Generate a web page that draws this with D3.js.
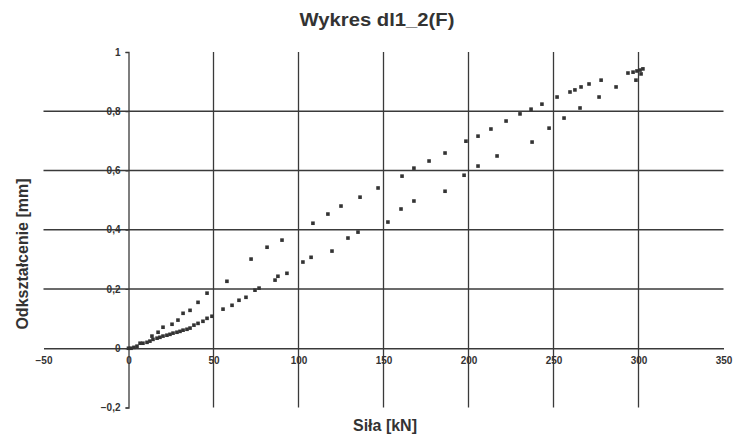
<!DOCTYPE html>
<html>
<head>
<meta charset="utf-8">
<script src="https://cdn.jsdelivr.net/npm/d3@7"></script>
<style>
  body { margin: 0; background: #fff; }
  svg { display: block; }
  text { font-family: "Liberation Sans", Arial, sans-serif; fill: #333; font-weight: bold; }
</style>
</head>
<body>
<svg id="chart" width="733" height="441"></svg>
<script>
const title = "Wykres dl1_2(F)";
const xTitle = "Siła [kN]";
const yTitle = "Odkształcenie [mm]";

const xTicks = [-50, 0, 50, 100, 150, 200, 250, 300, 350];
const yTicks = [-0.2, 0, 0.2, 0.4, 0.6, 0.8, 1];
const xGrid = [50, 100, 150, 200, 250, 300];
const yGrid = [0.2, 0.4, 0.6, 0.8];

// lower branch (loading)
const loadF = [0, 1.5, 3.2, 5, 6.8, 8.5, 10.9, 12.6, 14.4, 16.8, 18.5, 20.3, 22.6, 24.4, 26.2, 28.5, 30.3, 32.1, 34.4, 36.2, 38.5, 40.9, 43.8, 46.2, 49.1, 55.6, 60.9, 65, 69.1, 74.4, 76.8, 86.2, 87.9, 93.2, 102.6, 107.4, 119.7, 129.1, 135, 152.6, 160.3, 167.9, 186.2, 197.4, 205.6, 216.8, 237.4, 247.4, 256.2, 265.6, 276.8, 286.8, 298.5, 301.5];
const loadD = [0, 0, 0.003, 0.007, 0.017, 0.017, 0.020, 0.024, 0.030, 0.034, 0.037, 0.041, 0.044, 0.047, 0.051, 0.054, 0.057, 0.061, 0.064, 0.068, 0.078, 0.084, 0.091, 0.101, 0.108, 0.132, 0.145, 0.162, 0.172, 0.196, 0.203, 0.230, 0.243, 0.253, 0.291, 0.307, 0.328, 0.372, 0.392, 0.426, 0.470, 0.497, 0.530, 0.584, 0.615, 0.649, 0.696, 0.743, 0.777, 0.811, 0.848, 0.882, 0.905, 0.926];

// upper branch (unloading)
const unloadF = [13.8, 17.4, 20.3, 25.6, 29.1, 32.1, 36.2, 40.9, 46.2, 57.9, 72.1, 81.5, 90.3, 108.5, 117.3, 125, 136.2, 146.8, 160.9, 167.9, 176.8, 186.2, 198.5, 205.6, 213.2, 222.1, 230.3, 236.8, 243.2, 252.1, 259.7, 262.6, 266.2, 270.9, 278, 293.8, 296.8, 299.1, 300.9, 302.6];
const unloadD = [0.041, 0.054, 0.071, 0.081, 0.095, 0.118, 0.128, 0.155, 0.186, 0.226, 0.301, 0.341, 0.365, 0.422, 0.453, 0.480, 0.510, 0.541, 0.581, 0.608, 0.632, 0.659, 0.699, 0.716, 0.740, 0.767, 0.791, 0.807, 0.824, 0.848, 0.865, 0.872, 0.882, 0.892, 0.905, 0.929, 0.932, 0.936, 0.939, 0.943];

const svg = d3.select("#chart");
const x = d3.scaleLinear().domain([-50, 350]).range([43.5, 723.5]);
const y = d3.scaleLinear().domain([-0.2, 1]).range([407.5, 52]);
const fmt = v => d3.format("")(Math.round(v * 10) / 10).replace(".", ",");
const gridColor = "#3a3a3a";

// gridlines
svg.append("g").selectAll("line").data(yGrid).join("line")
  .attr("x1", x(-50)).attr("x2", x(350))
  .attr("y1", d => y(d)).attr("y2", d => y(d))
  .attr("stroke", gridColor).attr("stroke-width", 1.3);
svg.append("g").selectAll("line").data(xGrid).join("line")
  .attr("x1", d => x(d)).attr("x2", d => x(d))
  .attr("y1", y(1)).attr("y2", y(-0.2))
  .attr("stroke", gridColor).attr("stroke-width", 1.3);

// axes
const xAxis = d3.axisBottom(x).tickValues(xTicks).tickSize(0).tickPadding(9).tickFormat(d3.format(""));
const gx = svg.append("g").attr("transform", `translate(0,${y(0)})`).call(xAxis);
gx.select(".domain").attr("stroke", gridColor).attr("stroke-width", 1.3);
gx.selectAll("text").attr("font-size", 10).attr("font-family", "Liberation Sans, Arial, sans-serif").attr("font-weight", "bold").attr("fill", "#333");

const yAxis = d3.axisLeft(y).tickValues(yTicks).tickSize(3).tickPadding(5).tickFormat(fmt);
const gy = svg.append("g").attr("transform", `translate(${x(0)},0)`).call(yAxis);
gy.select(".domain").attr("stroke", gridColor).attr("stroke-width", 1.3);
gy.selectAll(".tick line").attr("stroke", gridColor);
gy.selectAll("text").attr("font-size", 10).attr("font-family", "Liberation Sans, Arial, sans-serif").attr("font-weight", "bold").attr("fill", "#333");

// points
const loadPts = loadF.map((f, i) => [f, loadD[i]]);
const unloadPts = unloadF.map((f, i) => [f, unloadD[i]]);
const s = 3.6;
svg.append("g").selectAll("rect").data(loadPts.concat(unloadPts)).join("rect")
  .attr("x", d => x(d[0]) - s / 2).attr("y", d => y(d[1]) - s / 2)
  .attr("width", s).attr("height", s).attr("fill", "#333");

// titles
svg.append("text").attr("x", 377).attr("y", 26).attr("text-anchor", "middle")
  .attr("font-size", 18).attr("textLength", 155).attr("lengthAdjust", "spacingAndGlyphs").text(title);
svg.append("text").attr("x", 385).attr("y", 431).attr("text-anchor", "middle")
  .attr("font-size", 16).text(xTitle);
svg.append("text").attr("transform", "translate(28,254) rotate(-90)").attr("text-anchor", "middle")
  .attr("font-size", 16).text(yTitle);
</script>
</body>
</html>
